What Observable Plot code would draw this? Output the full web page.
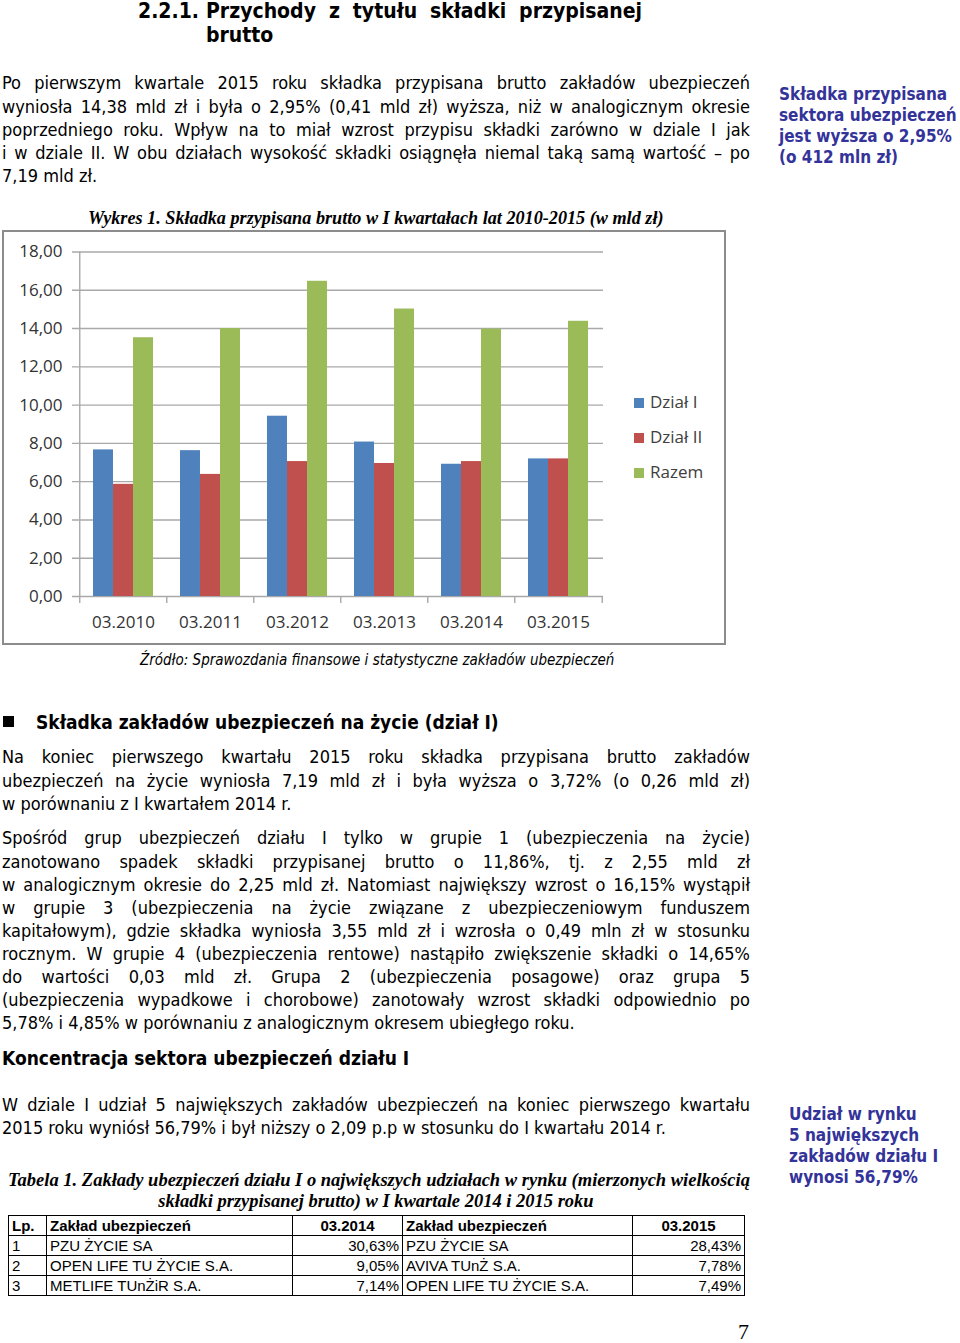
<!DOCTYPE html>
<html><head><meta charset="utf-8">
<script src="https://cdn.jsdelivr.net/npm/d3@7"></script>
<script src="https://cdn.jsdelivr.net/npm/@observablehq/plot@0.6"></script>
<style>
body{margin:0;background:#fff;}
#page{position:relative;width:960px;height:1343px;overflow:hidden;font-family:"DejaVu Sans",sans-serif;font-stretch:condensed;color:#000;}
.ln{position:absolute;white-space:nowrap;}
.ln.j{text-align:justify;text-align-last:justify;white-space:normal;}
.side{position:absolute;font-weight:bold;color:#333399;font-size:17px;line-height:21px;white-space:nowrap;}
#chartbox{position:absolute;left:2px;top:230px;width:724px;height:415px;box-sizing:border-box;border:2px solid #8c8c8c;background:#fff;font-stretch:normal;}
#chartbox svg{position:absolute;left:0;top:0;font-stretch:normal;}
.leg{position:absolute;font-family:"Open Sans",sans-serif;font-stretch:normal;font-size:17px;color:#404040;white-space:nowrap;line-height:20px;}
.leg i{display:inline-block;width:10px;height:10px;margin-right:6px;vertical-align:0px;}
.serifcap{position:absolute;font-family:"Liberation Serif",serif;font-stretch:normal;font-weight:bold;font-style:italic;font-size:18.2px;white-space:nowrap;}
#tbl{position:absolute;left:8px;top:1215px;border-collapse:collapse;font-family:"Liberation Sans Narrow","Liberation Sans",sans-serif;font-stretch:condensed;font-size:15px;}
#tbl td,#tbl th{border:1.5px solid #000;height:19px;padding:0 3px;line-height:18px;white-space:nowrap;}
#tbl th{font-weight:bold;text-align:left;}
#tbl th.c{text-align:center;}
#tbl td.r{text-align:right;}
</style>
</head><body><div id="page"></div>
<script>
// ---------- chart data ----------
const years = ["03.2010","03.2011","03.2012","03.2013","03.2014","03.2015"];
const series = ["Dział I","Dział II","Razem"];
const dzialI = [7.66,7.62,9.42,8.07,6.91,7.19];
const dzialII = [5.86,6.38,7.05,6.95,7.05,7.19];
const razem = [13.52,14.00,16.47,15.02,13.97,14.38];
const yTicks = [0,2,4,6,8,10,12,14,16,18];
const colors = ["#4F81BD","#C0504D","#9BBB59"];

// ---------- table data ----------
const lp = ["1","2","3"];
const firms2014 = ["PZU ŻYCIE SA","OPEN LIFE TU ŻYCIE S.A.","METLIFE TUnŻiR S.A."];
const shares2014 = ["30,63%","9,05%","7,14%"];
const firms2015 = ["PZU ŻYCIE SA","AVIVA TUnŻ S.A.","OPEN LIFE TU ŻYCIE S.A."];
const shares2015 = ["28,43%","7,78%","7,49%"];

const page = document.getElementById("page");

function el(tag, cls, txt, css){
  const e = document.createElement(tag);
  if (cls) e.className = cls;
  if (txt != null) e.textContent = txt;
  if (css) Object.assign(e.style, css);
  page.appendChild(e);
  return e;
}
function para(lines, {x, c0, step, w, fs, lastJ=false, bold=false, italic=false, font}){
  lines.forEach((t,i)=>{
    const lh = step;
    const d = el("div","ln",null,{left:x+"px", top:(c0 + i*step - lh/2)+"px", lineHeight:lh+"px", fontSize:fs+"px", height:lh+"px"});
    if (bold) d.style.fontWeight="bold";
    if (italic) d.style.fontStyle="italic";
    if (font) d.style.fontFamily=font;
    const s = document.createElement("span"); s.textContent=t; d.appendChild(s);
    const nat = s.getBoundingClientRect().width;
    if (w && nat > w) { d.style.letterSpacing = (-(nat-w+1)/t.length)+"px"; }
    if (w && (i < lines.length-1 || lastJ)) { d.classList.add("j"); d.style.width = w+"px"; }
  });
}

// heading
el("div","ln","2.2.1.",{left:"138px",top:"-1px",fontSize:"21px",fontWeight:"bold",lineHeight:"24px"});
para(["Przychody z tytułu składki przypisanej","brutto"],{x:206,c0:11,step:24,w:436,fs:21,bold:true});

// paragraph 1
para(["Po pierwszym kwartale 2015 roku składka przypisana brutto zakładów ubezpieczeń",
"wyniosła 14,38 mld zł i była o 2,95% (0,41 mld zł) wyższa, niż w analogicznym okresie",
"poprzedniego roku. Wpływ na to miał wzrost przypisu składki zarówno w dziale I jak",
"i w dziale II. W obu działach wysokość składki osiągnęła niemal taką samą wartość – po",
"7,19 mld zł."],{x:2,c0:83,step:23.25,w:748,fs:18});

// sidebar 1
const s1 = el("div","side",null,{left:"779px",top:"84px"});
s1.innerHTML = "Składka przypisana<br>sektora ubezpieczeń<br>jest wyższa o 2,95%<br>(o 412 mln zł)";

// chart caption
el("div","serifcap","Wykres 1. Składka przypisana brutto w I kwartałach lat 2010-2015 (w mld zł)",{left:"88px",top:"208px"});

// ---------- chart ----------
const box = el("div",null,null); box.id="chartbox";
const W = 720, H = 411, mL = 74, mR = 121, mT = 19.5, mB = 47;
const step = (W - mL - mR) / years.length;
const padIn = 0.314;
const bw = step * (1 - padIn) / series.length;
const rows = years.flatMap((yr,i)=>[
  {year:yr, series:series[0], value:dzialI[i]},
  {year:yr, series:series[1], value:dzialII[i]},
  {year:yr, series:series[2], value:razem[i]}
]);
const fmt = d => d.toFixed(2).replace(".", ",");
const gridColor = "#a9a9a9";
const chart = Plot.plot({
  width: W, height: H, marginLeft: mL, marginRight: mR, marginTop: mT, marginBottom: mB,
  style: {fontFamily:"'Open Sans', sans-serif", fontSize:"17px", color:"#333", background:"transparent", overflow:"visible", fontStretch:"normal"},
  x: {domain: years, paddingInner: padIn, paddingOuter: padIn/2, tickSize: 0, tickPadding: 19, label: null},
  y: {domain: [0,18], ticks: yTicks, tickFormat: fmt, tickSize: 0, tickPadding: 16, label: null},
  color: {domain: series, range: colors},
  marks: [
    Plot.ruleY(yTicks, {stroke: gridColor, strokeWidth: 1.4, insetLeft: -6}),
    ...series.map((s,k)=>Plot.barY(rows.filter(d=>d.series===s), {x:"year", y:"value", fill:"series", insetLeft:k*bw, insetRight:(series.length-1-k)*bw})),
    Plot.ruleX(years, {x: d=>d, dx: -step/2, y1: 0, y2: 0, insetBottom: -7, stroke: gridColor, strokeWidth: 1.4}),
    Plot.ruleX(years.slice(-1), {x: d=>d, dx: step/2, y1: 0, y2: 0, insetBottom: -7, stroke: gridColor, strokeWidth: 1.4}),
    Plot.ruleX(years.slice(0,1), {x: d=>d, dx: -step/2, y1: 0, y2: 18, stroke: gridColor, strokeWidth: 1.4})
  ]
});
box.appendChild(chart);
// legend
series.forEach((s,k)=>{
  const d = document.createElement("div"); d.className="leg";
  d.style.left = "630px"; d.style.top = (160 + k*35)+"px";
  const sw = document.createElement("i"); sw.style.background = colors[k];
  d.appendChild(sw); d.appendChild(document.createTextNode(s));
  box.appendChild(d);
});

// source
el("div","ln","Źródło: Sprawozdania finansowe i statystyczne zakładów ubezpieczeń",{left:"140px",top:"649px",fontSize:"15px",fontStyle:"italic",lineHeight:"22px"});

// bullet heading
el("div",null,null,{position:"absolute",left:"3px",top:"716px",width:"11px",height:"11px",background:"#000"});
el("div","ln","Składka zakładów ubezpieczeń na życie (dział I)",{left:"36px",top:"710px",fontSize:"19px",fontWeight:"bold",lineHeight:"24px"});

para(["Na koniec pierwszego kwartału 2015 roku składka przypisana brutto zakładów",
"ubezpieczeń na życie wyniosła 7,19 mld zł i była wyższa o 3,72% (o 0,26 mld zł)",
"w porównaniu z I kwartałem 2014 r."],{x:2,c0:757,step:23.2,w:748,fs:18});

para(["Spośród grup ubezpieczeń działu I tylko w grupie 1 (ubezpieczenia na życie)",
"zanotowano spadek składki przypisanej brutto o 11,86%, tj. z 2,55 mld zł",
"w analogicznym okresie do 2,25 mld zł. Natomiast największy wzrost o 16,15% wystąpił",
"w grupie 3 (ubezpieczenia na życie związane z ubezpieczeniowym funduszem",
"kapitałowym), gdzie składka wyniosła 3,55 mld zł i wzrosła o 0,49 mln zł w stosunku",
"rocznym. W grupie 4 (ubezpieczenia rentowe) nastąpiło zwiększenie składki o 14,65%",
"do wartości 0,03 mld zł. Grupa 2 (ubezpieczenia posagowe) oraz grupa 5",
"(ubezpieczenia wypadkowe i chorobowe) zanotowały wzrost składki odpowiednio po",
"5,78% i 4,85% w porównaniu z analogicznym okresem ubiegłego roku."],{x:2,c0:838,step:23.1,w:748,fs:18});

el("div","ln","Koncentracja sektora ubezpieczeń działu I",{left:"2px",top:"1046px",fontSize:"19px",fontWeight:"bold",lineHeight:"24px"});

para(["W dziale I udział 5 największych zakładów ubezpieczeń na koniec pierwszego kwartału",
"2015 roku wyniósł 56,79% i był niższy o 2,09 p.p w stosunku do I kwartału 2014 r."],{x:2,c0:1104,step:23,w:748,fs:18});

const s2 = el("div","side",null,{left:"789px",top:"1104px"});
s2.innerHTML = "Udział w rynku<br>5 największych<br>zakładów działu I<br>wynosi 56,79%";

// table caption
el("div","serifcap","Tabela 1. Zakłady ubezpieczeń działu I o największych udziałach w rynku (mierzonych wielkością",{left:"8px",top:"1170px",width:"736px",textAlign:"center",fontSize:"18.5px"});
el("div","serifcap","składki przypisanej brutto) w I kwartale 2014 i 2015 roku",{left:"8px",top:"1191px",width:"736px",textAlign:"center",fontSize:"18.5px"});

// table
const tbl = el("table",null,null); tbl.id="tbl";
const widths = [38,246,110,230,112];
const cg = document.createElement("colgroup");
widths.forEach(w=>{const c=document.createElement("col"); c.style.width=w+"px"; cg.appendChild(c);});
tbl.appendChild(cg);
const hr = document.createElement("tr");
[["Lp.",""],["Zakład ubezpieczeń",""],["03.2014","c"],["Zakład ubezpieczeń",""],["03.2015","c"]].forEach(([t,c])=>{
  const th=document.createElement("th"); th.textContent=t; if(c) th.className=c; hr.appendChild(th);});
tbl.appendChild(hr);
lp.forEach((n,i)=>{
  const tr=document.createElement("tr");
  [[n,""],[firms2014[i],""],[shares2014[i],"r"],[firms2015[i],""],[shares2015[i],"r"]].forEach(([t,c])=>{
    const td=document.createElement("td"); td.textContent=t; if(c) td.className=c; tr.appendChild(td);});
  tbl.appendChild(tr);
});

// page number
el("div","ln","7",{left:"738px",top:"1318px",fontFamily:"'Liberation Serif',serif",fontStretch:"normal",fontSize:"22px",lineHeight:"28px"});
</script>
</body></html>
